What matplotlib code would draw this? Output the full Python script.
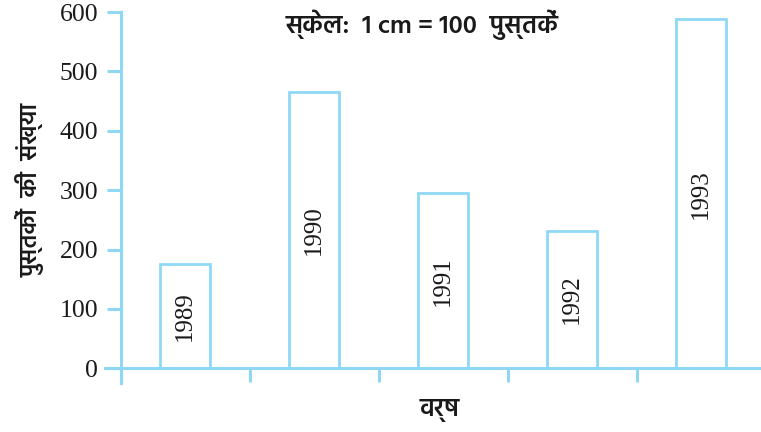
import matplotlib
matplotlib.use('Agg')
import matplotlib.pyplot as plt
from matplotlib import font_manager

# chart data
years = ['1989', '1990', '1991', '1992', '1993']
books = [175, 465, 295, 232, 588]
y_ticks = [0, 100, 200, 300, 400, 500, 600]

blue = '#8fd8f5'
ink = '#1a1a1a'

fonts = font_manager.fontManager.ttflist
names = {f.name for f in fonts}
bold_names = {f.name for f in fonts if f.weight in ('bold', 700, 600, 'semibold', 'demibold')}


def pick(cands, default, need_bold=False):
    for n in cands:
        if n in names and (not need_bold or n in bold_names):
            return n
    return default


serif = pick(['Liberation Serif', 'Tinos', 'Times New Roman', 'Nimbus Roman', 'FreeSerif'], 'DejaVu Serif')
hindi = pick(['Noto Sans Devanagari', 'Hind', 'Mukta', 'Lohit Devanagari', 'Poppins', 'Biryani', 'Arya'],
             'DejaVu Sans', need_bold=True)
hfont = [hindi, 'DejaVu Sans']

fig = plt.figure(figsize=(7.61, 4.32), dpi=100)
ax = fig.add_axes([0.138, 0.113, 0.863, 0.859])

x = [i + 0.5 for i in range(len(years))]
ax.bar(x, books, width=0.39, facecolor='white', edgecolor=blue, linewidth=2, zorder=2)

for xi, v, yr in zip(x, books, years):
    ax.text(xi, v / 2, yr, rotation=90, ha='center', va='center', fontsize=18,
            family=serif, color=ink)

ax.set_xlim(-0.12, 4.97)
ax.set_ylim(-25, 600)

for s in ['top', 'right']:
    ax.spines[s].set_visible(False)
ax.spines['bottom'].set_position(('data', 0))
ax.spines['left'].set_position(('data', 0))
for s in ['bottom', 'left']:
    ax.spines[s].set_color(blue)
    ax.spines[s].set_linewidth(2.2)

ax.set_yticks(y_ticks)
ax.set_yticklabels([str(t) for t in y_ticks], family=serif)
ax.set_xticks(range(len(years)))
ax.set_xticklabels([])
ax.tick_params(axis='y', direction='out', length=10, width=2.2, color=blue,
               labelsize=18.5, pad=6, labelcolor=ink)
ax.tick_params(axis='x', direction='out', length=10, width=2.2, color=blue)

fig.text(0.555, 0.942, 'स्केल:  1 cm = 100  पुस्तकें', ha='center', va='center', fontsize=18.5,
         family=hfont, fontweight='semibold', color=ink)
fig.text(0.039, 0.56, 'पुस्तकों  की  संख्या', rotation=90, ha='center', va='center', fontsize=17,
         family=hfont, fontweight='semibold', color=ink)
fig.text(0.578, 0.05, 'वर्ष', ha='center', va='center', fontsize=18,
         family=hfont, fontweight='semibold', color=ink)

fig.savefig('out.png')
